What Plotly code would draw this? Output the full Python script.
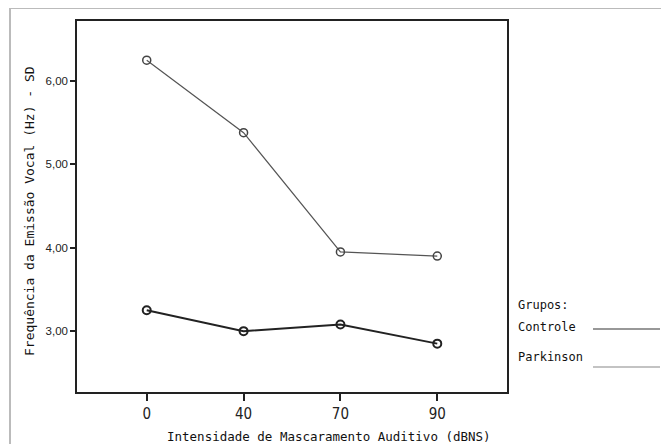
import plotly.graph_objects as go

categories = ["0", "40", "70", "90"]
controle = [3.25, 3.00, 3.08, 2.85]
parkinson = [6.25, 5.38, 3.95, 3.90]
y_ticks = [3, 4, 5, 6]

OFF = 8  # page body margin
W, H = 669 - OFF, 444 - OFF
L, R, T, B = 77 - OFF, 162, 21 - OFF, 52
pw = W - L - R
ph = H - T - B


def px(xp):
    return (xp - OFF - L) / pw


def py(yp):
    return (H - (yp - OFF) - B) / ph


fig = go.Figure()
fig.add_trace(go.Scatter(
    x=categories, y=parkinson, mode="lines+markers", name="Parkinson",
    line=dict(color="#555555", width=1.2),
    marker=dict(symbol="circle-open", size=8, color="#444444", line=dict(width=1.5)),
    showlegend=False))
fig.add_trace(go.Scatter(
    x=categories, y=controle, mode="lines+markers", name="Controle",
    line=dict(color="#222222", width=2),
    marker=dict(symbol="circle-open", size=8, color="#222222", line=dict(width=2)),
    showlegend=False))

fig.update_xaxes(
    type="category", range=[-0.72, 3.72], showline=True, mirror=True,
    linecolor="#222222", linewidth=1.5, ticks="outside", ticklen=7, tickwidth=2,
    tickcolor="#222222", showgrid=False, zeroline=False,
    tickfont=dict(family="Liberation Sans Narrow, DejaVu Sans Condensed", size=15, color="#222222"))
fig.update_yaxes(
    range=[2.27, 6.72], tickvals=y_ticks, tickformat=".2f", showline=True, mirror=True,
    linecolor="#222222", linewidth=1.5, ticks="outside", ticklen=5, tickwidth=1.5,
    tickcolor="#222222", showgrid=False, zeroline=False,
    tickfont=dict(family="Liberation Sans, Arial", size=11.5, color="#222222"))

fig.add_annotation(xref="paper", yref="paper", x=px(329), y=py(436),
                   text="Intensidade de Mascaramento Auditivo (dBNS)", showarrow=False,
                   font=dict(family="DejaVu Sans Mono", size=12.5, color="#111111"),
                   xanchor="center", yanchor="middle")
fig.add_annotation(xref="paper", yref="paper", x=px(29), y=py(211),
                   text="Frequência da Emissão Vocal (Hz) - SD", showarrow=False, textangle=-90,
                   font=dict(family="DejaVu Sans Mono", size=13, color="#111111"),
                   xanchor="center", yanchor="middle")

leg_font = dict(family="DejaVu Sans Mono", size=12, color="#111111")
for txt, yy in [("Grupos:", 305), ("Controle", 327), ("Parkinson", 357)]:
    fig.add_annotation(xref="paper", yref="paper", x=px(516), y=py(yy),
                       text=txt, showarrow=False, font=leg_font,
                       xanchor="left", yanchor="middle")
fig.add_shape(type="line", xref="paper", yref="paper",
              x0=px(593), x1=px(660), y0=py(329), y1=py(329),
              line=dict(color="#333333", width=1.2))
fig.add_shape(type="line", xref="paper", yref="paper",
              x0=px(593), x1=px(660), y0=py(367), y1=py(367),
              line=dict(color="#888888", width=1.2))
# outer frame
fig.add_shape(type="rect", xref="paper", yref="paper",
              x0=px(10), x1=px(675), y0=py(450), y1=py(8),
              line=dict(color="#bbbbbb", width=2), layer="below")

fig.update_layout(
    width=W, height=H, margin=dict(l=L, r=R, t=T, b=B),
    paper_bgcolor="white", plot_bgcolor="white", separators=",.",
    showlegend=False)

fig.write_html("out.html")
